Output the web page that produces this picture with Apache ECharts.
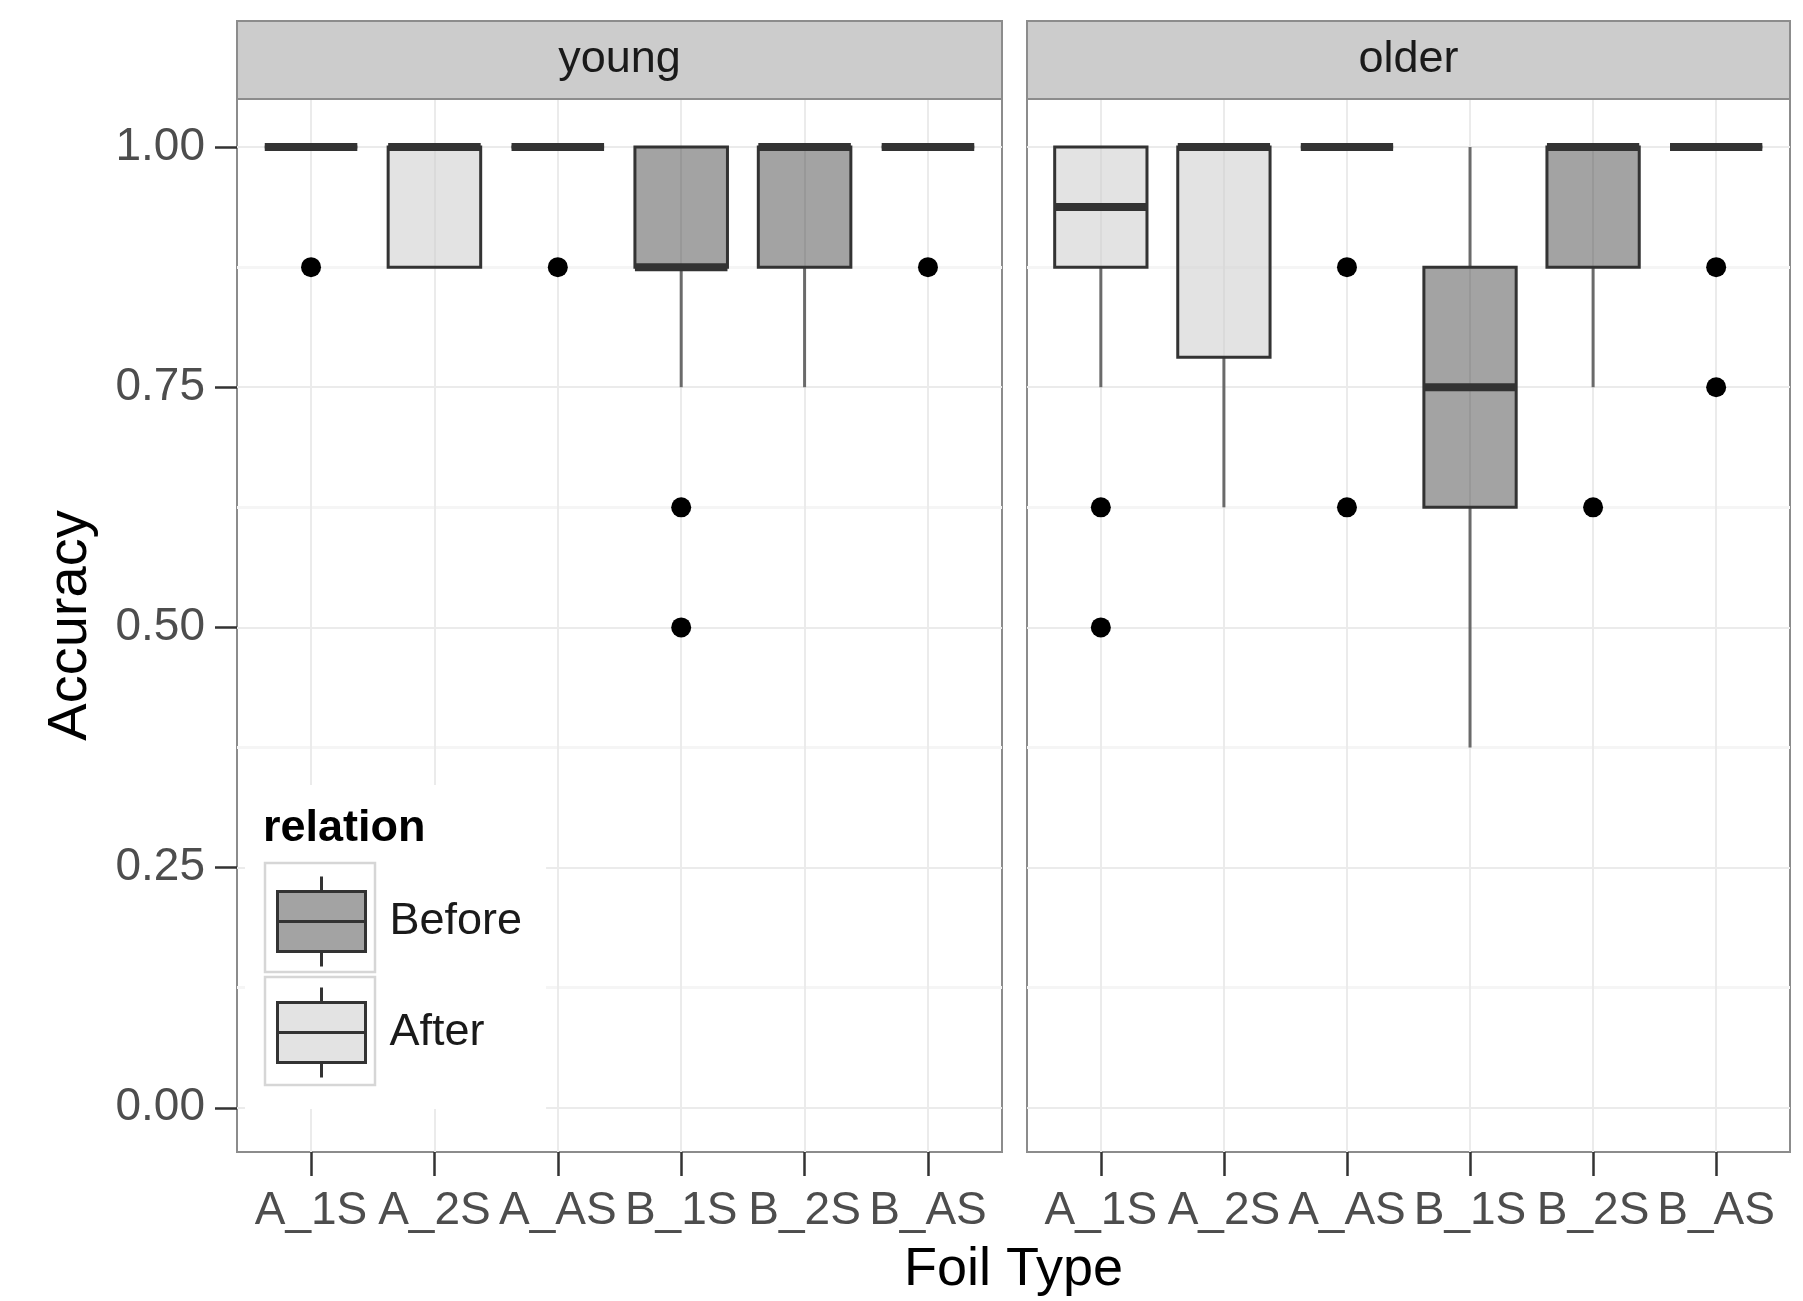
<!DOCTYPE html>
<html>
<head>
<meta charset="utf-8">
<script src="https://cdn.jsdelivr.net/npm/echarts@6/dist/echarts.min.js"></script>
<style>html,body{margin:0;padding:0;background:#fff}#c{width:1803px;height:1301px}</style>
</head>
<body>
<div id="c"></div>
<script>
// ---------------- data ----------------
const categories = ['A_1S', 'A_2S', 'A_AS', 'B_1S', 'B_2S', 'B_AS'];
const relationOf = ['After', 'After', 'After', 'Before', 'Before', 'Before'];
const panels = ['young', 'older'];
const yTicks = [0, 0.25, 0.5, 0.75, 1];
const yMinor = [0.125, 0.375, 0.625, 0.875];
// [lower whisker, Q1, median, Q3, upper whisker]
const youngStats = [
  [1, 1, 1, 1, 1],
  [0.875, 0.875, 1, 1, 1],
  [1, 1, 1, 1, 1],
  [0.75, 0.875, 0.875, 1, 1],
  [0.75, 0.875, 1, 1, 1],
  [1, 1, 1, 1, 1]
];
const olderStats = [
  [0.75, 0.875, 0.9375, 1, 1],
  [0.625, 0.78125, 1, 1, 1],
  [1, 1, 1, 1, 1],
  [0.375, 0.625, 0.75, 0.875, 1],
  [0.75, 0.875, 1, 1, 1],
  [1, 1, 1, 1, 1]
];
const youngOutliers = [['A_1S', 0.875], ['A_AS', 0.875], ['B_1S', 0.625], ['B_1S', 0.5], ['B_AS', 0.875]];
const olderOutliers = [['A_1S', 0.625], ['A_1S', 0.5], ['A_AS', 0.875], ['A_AS', 0.625], ['B_2S', 0.625], ['B_AS', 0.875], ['B_AS', 0.75]];

// ---------------- style ----------------
const FONT = '"Liberation Sans", Arial, sans-serif';
const FILL = { Before: 'rgba(51,51,51,0.45)', After: 'rgba(204,204,204,0.55)' };
const BOX_WIDTH = 0.75;
const WHISKER = '#6a6a6a';
const PANEL_TOP = 99, PANEL_H = 1053;
const PANEL_X = [237, 1027], PANEL_W = [765, 763];
const Y_MIN = -0.046, Y_MAX = 1.05;
const catIdx = categories.map((c, i) => i);

function renderBox(params, api) {
  const x = api.value(0);
  const lo = api.coord([x, api.value(1)]);
  const q1 = api.coord([x, api.value(2)]);
  const md = api.coord([x, api.value(3)]);
  const q3 = api.coord([x, api.value(4)]);
  const hi = api.coord([x, api.value(5)]);
  const w = api.size([BOX_WIDTH, 0])[0];
  const cx = q1[0];
  const fill = api.visual('color');
  return {
    type: 'group',
    children: [
      { type: 'line', shape: { x1: cx, y1: lo[1], x2: cx, y2: q1[1] }, style: { stroke: WHISKER, lineWidth: 3 } },
      { type: 'line', shape: { x1: cx, y1: q3[1], x2: cx, y2: hi[1] }, style: { stroke: WHISKER, lineWidth: 3 } },
      { type: 'rect', shape: { x: cx - w / 2, y: q3[1], width: w, height: q1[1] - q3[1] }, style: { fill: fill, stroke: '#333', lineWidth: 3 } },
      { type: 'line', shape: { x1: cx - w / 2, y1: md[1], x2: cx + w / 2, y2: md[1] }, style: { stroke: '#333', lineWidth: 8 } }
    ]
  };
}

function boxData(stats, rel) {
  const out = [];
  stats.forEach((s, i) => { if (relationOf[i] === rel) out.push([i].concat(s)); });
  return out;
}

const grids = [], xAxes = [], yAxes = [], series = [], graphics = [];
panels.forEach((p, g) => {
  grids.push({ left: PANEL_X[g], top: PANEL_TOP, width: PANEL_W[g], height: PANEL_H, show: true,
    borderColor: '#8c8c8c', borderWidth: 2, backgroundColor: '#fff', containLabel: false, outerBoundsMode: 'none' });
  xAxes.push({
    type: 'value', gridIndex: g, min: -0.6, max: 5.6,
    axisLine: { show: false, onZero: false },
    axisTick: { show: true, length: 24, customValues: catIdx, lineStyle: { color: '#333', width: 2.5 } },
    axisLabel: { customValues: catIdx, formatter: v => categories[Math.round(v)], margin: 36,
      fontSize: 46, color: '#4d4d4d', fontFamily: FONT, hideOverlap: false },
    splitLine: { show: true, lineStyle: { color: '#ebebeb', width: 2 } }
  });
  // major y axis
  yAxes.push({
    type: 'value', gridIndex: g, min: Y_MIN, max: Y_MAX,
    axisLine: { show: false, onZero: false },
    axisTick: { show: g === 0, length: 22, customValues: yTicks, lineStyle: { color: '#333', width: 2.5 } },
    axisLabel: { show: g === 0, customValues: yTicks, formatter: v => v.toFixed(2), margin: 32,
      fontSize: 46, color: '#4d4d4d', fontFamily: FONT },
    splitLine: { show: true, lineStyle: { color: '#ebebeb', width: 2 } },
    name: g === 0 ? 'Accuracy' : '', nameLocation: 'middle', nameGap: 138,
    nameTextStyle: { fontSize: 56, color: '#000', fontFamily: FONT }
  });
  // minor grid lines (hidden axis)
  yAxes.push({
    type: 'value', gridIndex: g, min: Y_MIN, max: Y_MAX,
    axisLine: { show: false, onZero: false },
    axisTick: { show: false, customValues: yMinor },
    axisLabel: { show: false, customValues: yMinor },
    splitLine: { show: true, lineStyle: { color: '#f5f5f5', width: 3 } }
  });
  const stats = g === 0 ? youngStats : olderStats;
  ['Before', 'After'].forEach(rel => {
    series.push({
      type: 'custom', name: rel, xAxisIndex: g, yAxisIndex: g * 2,
      renderItem: renderBox, data: boxData(stats, rel),
      encode: { x: 0, y: [1, 2, 3, 4, 5] },
      itemStyle: { color: FILL[rel], borderColor: '#333', borderWidth: 3 },
      z: 3, silent: true
    });
  });
  const outl = g === 0 ? youngOutliers : olderOutliers;
  series.push({
    type: 'scatter', xAxisIndex: g, yAxisIndex: g * 2, symbolSize: 20,
    itemStyle: { color: '#000', opacity: 1 }, silent: true, z: 4,
    data: outl.map(d => [categories.indexOf(d[0]), d[1]])
  });
  // strip
  graphics.push({ type: 'rect', z: 1, shape: { x: PANEL_X[g], y: 21, width: PANEL_W[g], height: PANEL_TOP - 21 },
    style: { fill: '#cccccc', stroke: '#8c8c8c', lineWidth: 2 } });
  graphics.push({ type: 'text', z: 2, x: PANEL_X[g] + PANEL_W[g] / 2, y: (21 + PANEL_TOP) / 2,
    style: { text: p, fontSize: 45, fontFamily: FONT, fill: '#1a1a1a', textAlign: 'center', textVerticalAlign: 'middle' } });
});

// x title
graphics.push({ type: 'text', z: 2, x: (PANEL_X[0] + PANEL_X[1] + PANEL_W[1]) / 2, y: 1243,
  style: { text: 'Foil Type', fontSize: 54, fontFamily: FONT, fill: '#000', textAlign: 'center', textVerticalAlign: 'top' } });
// legend key squares
graphics.push({ type: 'rect', z: 10, shape: { x: 265, y: 863, width: 110, height: 109 },
  style: { fill: 'rgba(0,0,0,0)', stroke: '#d6d6d6', lineWidth: 2.5 } });
graphics.push({ type: 'rect', z: 10, shape: { x: 265, y: 977, width: 110, height: 108 },
  style: { fill: 'rgba(0,0,0,0)', stroke: '#d6d6d6', lineWidth: 2.5 } });

const ICON = 'path://M44 0 L44 15 M0 15 L88 15 L88 75 L0 75 Z M0 45 L88 45 M44 75 L44 90';

const option = {
  animation: false,
  backgroundColor: '#fff',
  title: { text: 'relation', left: 263, top: 806, padding: 0,
    textStyle: { fontSize: 45, fontWeight: 'bold', color: '#000', fontFamily: FONT } },
  legend: {
    orient: 'vertical', left: 245, top: 785, padding: [90, 24, 30, 31],
    backgroundColor: '#fff', itemWidth: 88, itemHeight: 90, itemGap: 18,
    icon: ICON, selectedMode: false,
    textStyle: { fontSize: 45, color: '#1a1a1a', fontFamily: FONT, padding: [0, 0, 0, 19] },
    data: [
      { name: 'Before', itemStyle: { color: FILL.Before, borderColor: '#333', borderWidth: 3 } },
      { name: 'After', itemStyle: { color: FILL.After, borderColor: '#333', borderWidth: 3 } }
    ]
  },
  grid: grids,
  xAxis: xAxes,
  yAxis: yAxes,
  series: series,
  graphic: { elements: graphics }
};

const chart = echarts.init(document.getElementById('c'), null, { renderer: 'canvas' });
chart.setOption(option);
</script>
</body>
</html>
